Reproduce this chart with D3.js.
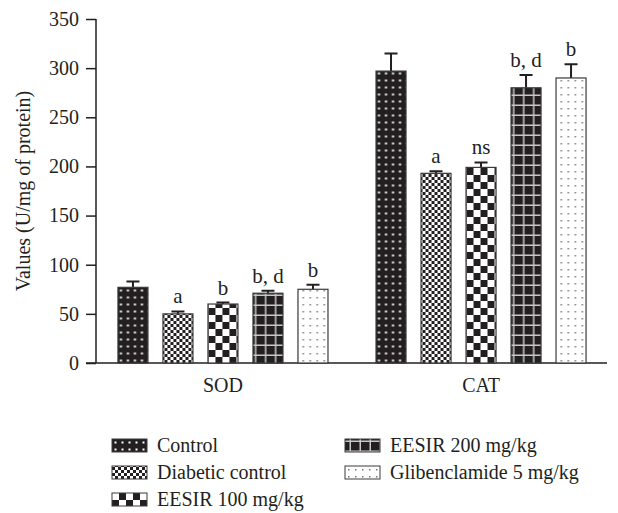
<!DOCTYPE html>
<html>
<head>
<meta charset="utf-8">
<script src="https://cdn.jsdelivr.net/npm/d3@7"></script>
<style>
  html, body { margin: 0; padding: 0; background: #fff; }
  svg { display: block; }
  text { font-family: "Liberation Serif", "DejaVu Serif", serif; fill: #231f20; }
</style>
</head>
<body>
<svg id="chart" width="618" height="513"></svg>
<script>
// Enzyme groups on the x axis
const groups = ["SOD", "CAT"];
// Treatment series
const series = ["Control", "Diabetic control", "EESIR 100 mg/kg", "EESIR 200 mg/kg", "Glibenclamide 5 mg/kg"];
// Mean values per group (same order as series)
const sodValues = [77, 50, 60, 71, 75];
const catValues = [297, 193, 199, 280, 290];
// Upper error (SEM) per group
const sodErrors = [6, 2.5, 1.5, 2.5, 4.5];
const catErrors = [18, 2, 5, 13, 14];
// Significance letters per group
const sodLabels = ["", "a", "b", "b, d", "b"];
const catLabels = ["", "a", "ns", "b, d", "b"];
// Y axis ticks
const yTicks = [0, 50, 100, 150, 200, 250, 300, 350];

const values = { SOD: sodValues, CAT: catValues };
const errors = { SOD: sodErrors, CAT: catErrors };
const sigLabels = { SOD: sodLabels, CAT: catLabels };

const svg = d3.select("#chart");
const defs = svg.append("defs");
const ink = "#231f20";
const fontSize = 20;

// Fill patterns, one per series
function pat(id, w, h) {
  return defs.append("pattern").attr("id", id)
    .attr("patternUnits", "userSpaceOnUse").attr("width", w).attr("height", h);
}
// Control: dark with white dots
let p = pat("p0", 7, 7);
p.append("rect").attr("width", 7).attr("height", 7).attr("fill", ink);
p.append("rect").attr("x", 2.5).attr("y", 2.5).attr("width", 2).attr("height", 2).attr("fill", "#fff");
// Diabetic control: fine checker
p = pat("p1", 6, 6);
p.append("rect").attr("width", 6).attr("height", 6).attr("fill", "#fff");
p.append("rect").attr("x", 0).attr("y", 0).attr("width", 3).attr("height", 3).attr("fill", ink);
p.append("rect").attr("x", 3).attr("y", 3).attr("width", 3).attr("height", 3).attr("fill", ink);
// EESIR 100: coarse checker
p = pat("p2", 14, 14);
p.append("rect").attr("width", 14).attr("height", 14).attr("fill", "#fff");
p.append("rect").attr("x", 0).attr("y", 0).attr("width", 7).attr("height", 7).attr("fill", ink);
p.append("rect").attr("x", 7).attr("y", 7).attr("width", 7).attr("height", 7).attr("fill", ink);
// EESIR 200: dark with light grid
p = pat("p3", 10, 10);
p.append("rect").attr("width", 10).attr("height", 10).attr("fill", ink);
p.append("rect").attr("x", 0).attr("y", 4.5).attr("width", 10).attr("height", 1.5).attr("fill", "#c8c8c8");
p.append("rect").attr("x", 4.5).attr("y", 0).attr("width", 1.5).attr("height", 10).attr("fill", "#c8c8c8");
// Glibenclamide: white with small grey dots
p = pat("p4", 7, 7);
p.append("rect").attr("width", 7).attr("height", 7).attr("fill", "#fff");
p.append("rect").attr("x", 3).attr("y", 3).attr("width", 1.5).attr("height", 1.5).attr("fill", "#777");

const fills = series.map((s, i) => `url(#p${i})`);

// Scales
const y = d3.scaleLinear().domain([0, 350]).range([363, 19]);
const x0 = d3.scaleBand().domain(groups).range([96, 608]).paddingInner(0.128).paddingOuter(0.056);
const x1 = d3.scaleBand().domain(series).range([0, x0.bandwidth()]).paddingInner(1 / 3).paddingOuter(1 / 6);

// Y axis
const yAxis = d3.axisLeft(y).tickValues(yTicks).tickSize(10).tickPadding(7).tickFormat(d3.format("d"));
const gy = svg.append("g").attr("transform", "translate(96,0)").call(yAxis);
gy.select(".domain").attr("stroke", ink).attr("stroke-width", 1.5).attr("d", "M0,19V363");
gy.selectAll(".tick line").attr("stroke", ink).attr("stroke-width", 1.5);
gy.selectAll(".tick text").attr("font-size", fontSize).style("font-family", '"Liberation Serif", serif').attr("fill", ink);

// X axis baseline
svg.append("line").attr("x1", 86).attr("x2", 607).attr("y1", y(0)).attr("y2", y(0))
  .attr("stroke", ink).attr("stroke-width", 1.5);

// Y axis title
svg.append("text")
  .attr("transform", `translate(30,${(y(0) + y(350)) / 2}) rotate(-90)`)
  .attr("text-anchor", "middle").attr("font-size", fontSize)
  .text("Values (U/mg of protein)");

// Group labels
svg.selectAll(".glabel").data(groups).join("text")
  .attr("x", d => x0(d) + x0.bandwidth() / 2).attr("y", 392)
  .attr("text-anchor", "middle").attr("font-size", fontSize)
  .text(d => d);

// Bars, error bars and significance letters
const gGroups = svg.selectAll(".grp").data(groups).join("g")
  .attr("transform", d => `translate(${x0(d)},0)`);

gGroups.each(function (g) {
  const sel = d3.select(this);
  const rows = series.map((s, i) => ({ s, i, v: values[g][i], e: errors[g][i], lab: sigLabels[g][i] }));
  const bw = x1.bandwidth();
  // error bars (drawn first so bars cover the stem base)
  sel.selectAll(".err").data(rows).join("path")
    .attr("d", d => {
      const cx = x1(d.s) + bw / 2;
      return `M${cx},${y(d.v)}V${y(d.v + d.e)}M${cx - 6.5},${y(d.v + d.e)}H${cx + 6.5}`;
    })
    .attr("stroke", ink).attr("stroke-width", 2).attr("fill", "none");
  sel.selectAll(".bar").data(rows).join("rect")
    .attr("x", d => x1(d.s)).attr("width", bw)
    .attr("y", d => y(d.v)).attr("height", d => y(0) - y(d.v))
    .attr("fill", d => fills[d.i]).attr("stroke", "#3a3a3a").attr("stroke-width", 1.2);
  sel.selectAll(".sig").data(rows.filter(d => d.lab)).join("text")
    .attr("x", d => x1(d.s) + bw / 2).attr("y", d => y(d.v + d.e) - 8)
    .attr("text-anchor", "middle").attr("font-size", fontSize + 1)
    .text(d => d.lab);
});

// Legend
const legPos = [[112, 446], [112, 473], [112, 500], [345, 446], [345, 473]];
const leg = svg.selectAll(".leg").data(series).join("g")
  .attr("transform", (d, i) => `translate(${legPos[i][0]},${legPos[i][1]})`);
leg.append("rect").attr("x", 0).attr("y", -7).attr("width", 35).attr("height", 13)
  .attr("fill", (d, i) => fills[i]).attr("stroke", "#3a3a3a").attr("stroke-width", 1);
leg.append("text").attr("x", 45).attr("y", 6).attr("font-size", fontSize).text(d => d);
</script>
</body>
</html>
